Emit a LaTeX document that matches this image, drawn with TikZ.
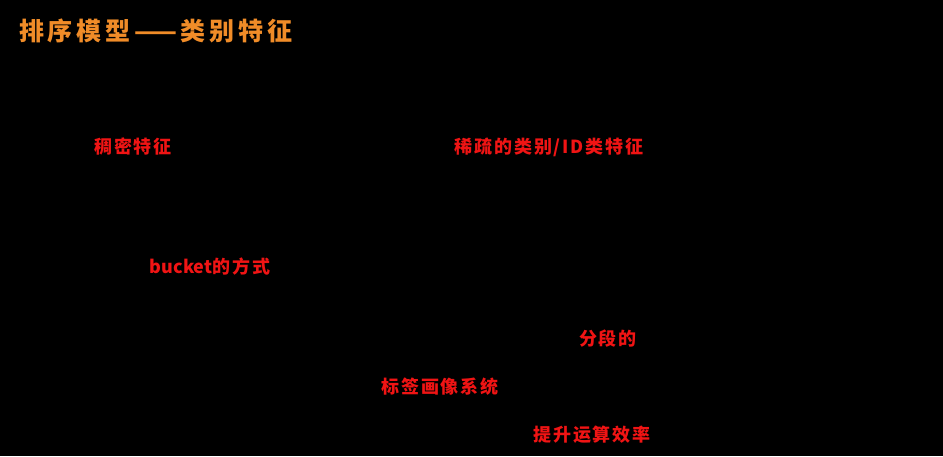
\documentclass[tikz,border=0pt]{standalone}
\usepackage{fontspec}
\newfontfamily\cjk{Noto Sans CJK SC}
\newfontfamily\cjkwide[LetterSpace=10]{Noto Sans CJK SC}
\newfontfamily\cjktitle[LetterSpace=15]{Noto Sans CJK SC}
\definecolor{titleorange}{RGB}{240,140,40}
\definecolor{notered}{RGB}{240,20,20}
\begin{document}
\begin{tikzpicture}
  [x=1pt,y=-1pt,every node/.style={inner sep=0pt}]
  \tikzstyle{note} = [text=notered,font=\cjkwide\bfseries\fontsize{18}{20}\selectfont]
  \fill[black] (0,0) rectangle (943,456);
  \useasboundingbox (0,0) rectangle (943,456);
  \node[text=titleorange,font=\cjktitle\bfseries\fontsize{25}{27}\selectfont,anchor=west] (title) at (19,31) {排序模型——类别特征};
  \node[note] (dense)  at (133,147) {稠密特征};
  \node[note] (sparse) at (549,147) {稀疏的类别/ID类特征};
  \node[note] (bucket) at (210,267) {{\cjk\bfseries bucket}的方式};
  \node[note] (seg)    at (608,339) {分段的};
  \node[note] (tag)    at (440,387) {标签画像系统};
  \node[note] (speed)  at (592,435) {提升运算效率};
\end{tikzpicture}
\end{document}
